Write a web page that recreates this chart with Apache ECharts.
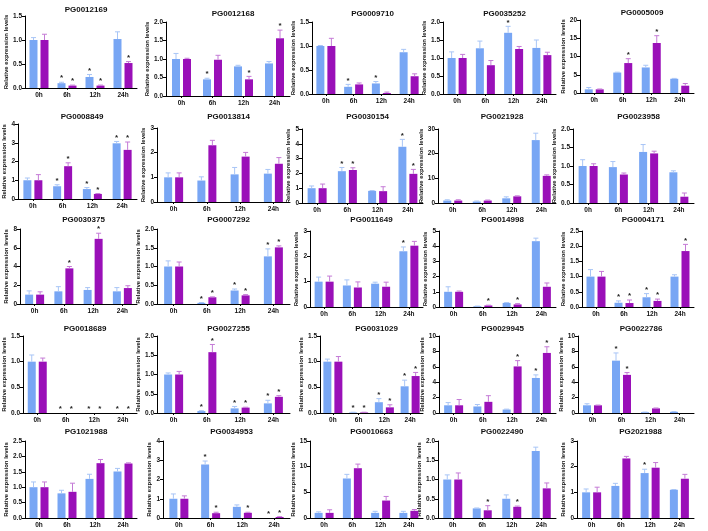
<!DOCTYPE html>
<html>
<head>
<meta charset="utf-8">
<script src="https://cdn.jsdelivr.net/npm/echarts@6/dist/echarts.min.js"></script>
<style>
  html, body { margin: 0; padding: 0; background: #fff; }
  #chart { width: 708px; height: 531px; }
</style>
</head>
<body>
<div id="chart"></div>
<script>
// time points on every x axis
const timePoints = ['0h', '6h', '12h', '24h'];

// gene names, row by row
const genes = [
  'PG0012169', 'PG0012168', 'PG0009710', 'PG0035252', 'PG0005009',
  'PG0008849', 'PG0013814', 'PG0030154', 'PG0021928', 'PG0023958',
  'PG0030375', 'PG0007292', 'PG0011649', 'PG0014998', 'PG0004171',
  'PG0018689', 'PG0027255', 'PG0031029', 'PG0029945', 'PG0022786',
  'PG1021988', 'PG0034953', 'PG0010663', 'PG0022490', 'PG2021988'
];

// y axis range and tick step of each panel
const yMax  = [1.5, 2, 1.5, 2, 20,  4, 3, 5, 30, 2,  8, 2, 3, 5, 2.5,  1.5, 2, 1.5, 10, 10,  2.5, 4, 15, 2, 3];
const yStep = [0.5, 0.5, 0.5, 0.5, 5,  1, 1, 1, 10, 0.5,  2, 0.5, 1, 1, 0.5,  0.5, 0.5, 0.5, 2, 2,  0.5, 1, 5, 0.5, 1];

// blue series (first bar of each group)
const blueMean = [
  [1.0, 0.1, 0.23, 1.02], [1.0, 0.45, 0.8, 0.88], [1.0, 0.15, 0.22, 0.87], [1.0, 1.27, 1.7, 1.28], [1.0, 5.6, 7.0, 3.9],
  [1.0, 0.68, 0.53, 2.97], [1.0, 0.87, 1.12, 1.15], [1.0, 2.15, 0.82, 3.8], [1.0, 0.6, 1.9, 25.5], [1.0, 0.97, 1.38, 0.83],
  [1.0, 1.35, 1.5, 1.35], [1.0, 0.03, 0.36, 1.27], [1.0, 0.85, 0.92, 2.2], [1.0, 0.05, 0.27, 4.33], [1.0, 0.14, 0.32, 1.0],
  [1.0, 0, 0, 0], [1.0, 0.05, 0.12, 0.25], [1.0, 0.01, 0.21, 0.52], [1.0, 0.85, 0.45, 4.55], [1.0, 6.8, 0.1, 0.15],
  [1.0, 0.8, 1.27, 1.51], [1.0, 2.78, 0.58, 0], [1.0, 7.7, 1.0, 1.0], [1.0, 0.25, 0.5, 1.74], [1.0, 1.25, 1.75, 1.1]
];
const blueErr = [
  [0.05, 0.02, 0.05, 0.15], [0.15, 0.03, 0.03, 0.05], [0.01, 0.05, 0.04, 0.06], [0.17, 0.2, 0.18, 0.22], [0.5, 0.1, 0.6, 0.1],
  [0.12, 0.08, 0.08, 0.1], [0.18, 0.15, 0.28, 0.17], [0.15, 0.25, 0.02, 0.5], [0.3, 0.2, 0.6, 2.8], [0.17, 0.15, 0.2, 0.04],
  [0.4, 0.5, 0.25, 0.4], [0.15, 0.01, 0.04, 0.2], [0.18, 0.22, 0.06, 0.17], [0.33, 0.01, 0.02, 0.2], [0.23, 0.06, 0.12, 0.06],
  [0.13, 0, 0, 0], [0.04, 0.01, 0.05, 0.08], [0.05, 0.005, 0.07, 0.12], [0.35, 0.25, 0.05, 0.4], [0.2, 1.0, 0.02, 0.03],
  [0.17, 0.1, 0.15, 0.1], [0.25, 0.18, 0.1, 0], [0.2, 0.8, 0.3, 0.3], [0.12, 0.01, 0.1, 0.1], [0.13, 0.1, 0.15, 0.01]
];

// purple series (second bar of each group)
const purpleMean = [
  [1.0, 0.05, 0.05, 0.52], [1.0, 0.98, 0.45, 1.56], [1.0, 0.2, 0.02, 0.37], [1.0, 0.8, 1.25, 1.08], [1.0, 8.2, 13.7, 2.0],
  [1.0, 1.75, 0.27, 2.62], [1.0, 2.3, 1.84, 1.55], [1.0, 2.23, 0.8, 1.97], [1.0, 1.0, 2.7, 11.0], [1.0, 0.77, 1.34, 0.17],
  [1.0, 3.8, 6.95, 1.7], [1.0, 0.18, 0.23, 1.51], [1.0, 0.77, 0.8, 2.42], [1.0, 0.1, 0.17, 1.33], [1.0, 0.13, 0.2, 1.84],
  [1.0, 0, 0, 0], [1.0, 1.58, 0.14, 0.42], [1.0, 0.01, 0.11, 0.72], [1.0, 1.45, 6.05, 7.8], [1.0, 4.95, 0.6, 0],
  [1.0, 0.85, 1.78, 1.77], [1.0, 0.25, 0.27, 0.05], [1.0, 9.7, 3.4, 1.4], [1.0, 0.2, 0.29, 0.77], [1.0, 2.32, 1.96, 1.53]
];
const purpleErr = [
  [0.12, 0.01, 0.01, 0.03], [0.02, 0.12, 0.08, 0.22], [0.16, 0.03, 0.02, 0.05], [0.1, 0.13, 0.07, 0.08], [0.1, 1.2, 2.0, 0.6],
  [0.3, 0.18, 0.02, 0.42], [0.18, 0.2, 0.17, 0.25], [0.28, 0.15, 0.3, 0.3], [0.3, 0.2, 0.2, 0.4], [0.06, 0.04, 0.06, 0.1],
  [0.3, 0.2, 0.6, 0.25], [0.12, 0.01, 0.02, 0.04], [0.22, 0.22, 0.18, 0.17], [0.05, 0.02, 0.05, 0.25], [0.17, 0.1, 0.06, 0.22],
  [0.07, 0, 0, 0], [0.08, 0.2, 0.01, 0.03], [0.1, 0.005, 0.05, 0.07], [0.75, 0.8, 0.75, 0.8], [0.03, 0.3, 0.05, 0],
  [0.17, 0.28, 0.12, 0.02], [0.15, 0.05, 0.03, 0.02], [0.6, 0.8, 0.8, 0.25], [0.17, 0.12, 0.02, 0.14], [0.2, 0.08, 0.2, 0.17]
];

// significance marks (1 = asterisk)
const blueStar = [
  [0,1,1,0], [0,1,0,0], [0,1,1,0], [0,0,1,0], [0,0,0,0],
  [0,1,1,1], [0,0,0,0], [0,1,0,1], [0,0,0,0], [0,0,0,0],
  [0,0,0,0], [0,1,1,1], [0,0,0,1], [0,0,0,0], [0,1,1,0],
  [0,1,1,1], [0,1,1,1], [0,1,1,1], [0,0,0,1], [0,1,0,0],
  [0,0,0,0], [0,1,0,1], [0,0,0,0], [0,0,0,0], [0,0,1,0]
];
const purpleStar = [
  [0,1,1,1], [0,0,1,1], [0,0,0,0], [0,0,0,0], [0,1,1,0],
  [0,1,1,1], [0,0,0,0], [0,1,0,1], [0,0,0,0], [0,0,0,0],
  [0,1,1,0], [0,1,1,1], [0,0,0,0], [0,1,1,0], [0,1,1,1],
  [0,1,1,1], [0,1,1,1], [0,1,1,1], [0,0,1,1], [0,1,0,0],
  [0,0,0,0], [0,1,1,1], [0,0,0,0], [0,1,1,0], [0,0,0,0]
];

const BLUE = '#78a6f4', PURPLE = '#9a10b8';
const BLUE_ERR = '#a8c5f6', PURPLE_ERR = '#c47ad6';
const FONT = '"Liberation Sans", Arial, sans-serif';
const BAR_W = 8, BAR_GAP = 3;
const OFF = (BAR_W + BAR_GAP) / 2;

// layout of the 5x5 panels (px)
const axisLeft = [
  [25, 166, 312, 443, 580],
  [17, 157, 302, 438, 573],
  [20, 157, 310, 439, 582],
  [23, 157, 320, 439, 578],
  [25, 163, 310, 438, 577]
];
const axisRight = [137, 290, 423, 556, 694];
const panelTop = [
  [16, 22, 22, 22, 20],
  [124, 128, 129, 129, 129],
  [229, 229, 231, 231, 231],
  [336, 336, 336, 336, 336],
  [441, 441, 441, 441, 441]
];
const panelZero = [
  [88, 96, 94, 94, 93],
  [199, 202, 203, 203, 203],
  [304, 304, 307, 307, 307],
  [413, 413, 413, 413, 413],
  [518, 518, 518, 518, 518]
];
const titleY = [
  [1, 5, 5, 5, 4],
  [108, 108, 108, 108, 108],
  [211, 211, 211, 211, 211],
  [320, 320, 320, 320, 320],
  [423, 423, 423, 423, 423]
];

function renderErr(params, api) {
  const cat = api.value(0), side = api.value(1);
  const mean = api.value(2), err = api.value(3), star = api.value(4);
  const base = api.coord([cat, mean]);
  const top = api.coord([cat, mean + err]);
  const x = base[0] + (side === 0 ? -OFF : OFF);
  const color = side === 0 ? BLUE_ERR : PURPLE_ERR;
  const children = [];
  if (err > 0) {
    children.push({ type: 'line', shape: { x1: x, y1: base[1], x2: x, y2: top[1] }, style: { stroke: color, lineWidth: 1 } });
    children.push({ type: 'line', shape: { x1: x - 2.5, y1: top[1], x2: x + 2.5, y2: top[1] }, style: { stroke: color, lineWidth: 1 } });
  }
  if (star) {
    children.push({ type: 'text', style: { text: '*', x: x, y: top[1] - 4, align: 'center', verticalAlign: 'middle', font: 'bold 8px ' + FONT, fill: '#222' } });
  }
  return { type: 'group', children: children };
}

const grid = [], xAxis = [], yAxis = [], series = [], title = [];

genes.forEach(function (name, i) {
  const r = Math.floor(i / 5), c = i % 5;
  const left = axisLeft[r][c], right = axisRight[c];
  const decimals = yStep[i] < 1 ? 1 : 0;

  grid.push({ left: left, top: panelTop[r][c], width: right - left, height: panelZero[r][c] - panelTop[r][c] });
  title.push({
    text: name, left: (left + right) / 2, top: titleY[r][c], textAlign: 'center',
    textStyle: { fontFamily: FONT, fontSize: 8, fontWeight: 'bold', color: '#111' }
  });

  xAxis.push({
    type: 'category', gridIndex: i, data: timePoints,
    axisLine: { lineStyle: { color: '#000', width: 1 } },
    axisTick: { show: true, alignWithLabel: true, length: 2, lineStyle: { color: '#000' } },
    axisLabel: { fontFamily: FONT, fontSize: 6.5, fontWeight: 'bold', color: '#111', margin: 4, interval: 0 }
  });

  yAxis.push({
    type: 'value', gridIndex: i, min: 0, max: yMax[i], interval: yStep[i],
    name: 'Relative expression levels', nameLocation: 'middle', nameGap: decimals ? 15 : 11,
    nameTextStyle: { fontFamily: FONT, fontSize: 6, fontWeight: 'bold', color: '#111' },
    axisLine: { show: true, lineStyle: { color: '#000', width: 1 } },
    axisTick: { show: true, length: 3, lineStyle: { color: '#000' } },
    splitLine: { show: false },
    axisLabel: {
      fontFamily: FONT, fontSize: 6.5, fontWeight: 'bold', color: '#111', margin: 3,
      formatter: function (v) { return v.toFixed(decimals); }
    }
  });

  series.push({
    type: 'bar', xAxisIndex: i, yAxisIndex: i, data: blueMean[i],
    barWidth: BAR_W, barGap: (BAR_GAP / BAR_W * 100) + '%',
    itemStyle: { color: BLUE }, silent: true
  });
  series.push({
    type: 'bar', xAxisIndex: i, yAxisIndex: i, data: purpleMean[i],
    barWidth: BAR_W, barGap: (BAR_GAP / BAR_W * 100) + '%',
    itemStyle: { color: PURPLE }, silent: true
  });

  const errData = [];
  for (let k = 0; k < 4; k++) {
    errData.push([k, 0, blueMean[i][k], blueErr[i][k], blueStar[i][k]]);
    errData.push([k, 1, purpleMean[i][k], purpleErr[i][k], purpleStar[i][k]]);
  }
  series.push({
    type: 'custom', xAxisIndex: i, yAxisIndex: i, data: errData,
    renderItem: renderErr, z: 5, silent: true
  });
});

const myChart = echarts.init(document.getElementById('chart'));
myChart.setOption({
  animation: false,
  backgroundColor: '#fff',
  title: title,
  grid: grid,
  xAxis: xAxis,
  yAxis: yAxis,
  series: series
});
</script>
</body>
</html>
